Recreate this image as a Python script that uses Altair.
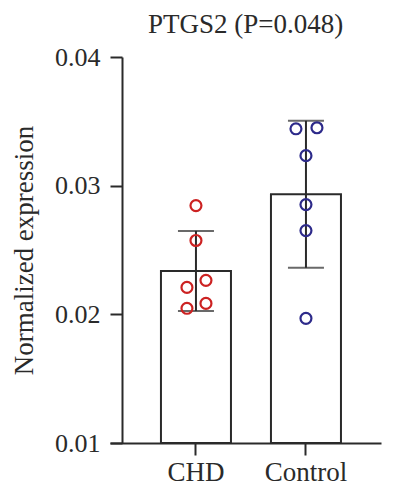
import altair as alt
import pandas as pd

groups = ["CHD", "Control"]
chd_values = [0.02845, 0.02574, 0.02264, 0.02209, 0.02085, 0.02047]
control_values = [0.03442, 0.03450, 0.03233, 0.02853, 0.02651, 0.01969]
chd_jitter = [0, 0, 10, -9, 10, -9]
control_jitter = [-10, 11, 0, 0, 0, 0]
colors = ["#cc2222", "#2d2a8a"]
y_ticks = [0.01, 0.02, 0.03, 0.04]

rows = []
for g, vals, jit in [("CHD", chd_values, chd_jitter), ("Control", control_values, control_jitter)]:
    for v, j in zip(vals, jit):
        rows.append({"group": g, "value": v, "jit": j})
df = pd.DataFrame(rows)

FONT = "Liberation Serif"
INK = "#2a2a2a"
HALF_BAND = 35  # half of the 70px band: points are offset from the band's centre

xscale = alt.Scale(paddingInner=0.3636, paddingOuter=0.4136, align=0.56)
xenc = alt.X(
    "group:N", sort=groups, scale=xscale,
    axis=alt.Axis(title=None, labelAngle=0, labelFontSize=27, labelPadding=4),
)
yscale = alt.Scale(domain=[0.01, 0.04], zero=False, nice=False)
yaxis = alt.Axis(
    title="Normalized expression", values=y_ticks, format=".2f", offset=-12,
    labelFontSize=26, labelPadding=10, titleFontSize=27, titleFontWeight="normal",
    titlePadding=16,
)

base = alt.Chart(df)
stats = base.transform_aggregate(
    mean="mean(value)", sd="stdev(value)", groupby=["group"]
).transform_calculate(lo="datum.mean - datum.sd", hi="datum.mean + datum.sd")

bars = stats.mark_bar(fill="white", stroke=INK, strokeWidth=2).encode(
    x=xenc, y=alt.Y("mean:Q", scale=yscale, axis=yaxis), y2=alt.datum(0.01)
)
rule = stats.mark_rule(color=INK, strokeWidth=2).encode(
    x=xenc, y=alt.Y("lo:Q", scale=yscale), y2="hi:Q"
)
cap_lo = stats.mark_tick(color=INK, thickness=2, size=36).encode(
    x=xenc, y=alt.Y("lo:Q", scale=yscale)
)
cap_hi = stats.mark_tick(color=INK, thickness=2, size=36).encode(
    x=xenc, y=alt.Y("hi:Q", scale=yscale)
)
points = base.transform_calculate(
    off=f"datum.jit + {HALF_BAND}"
).mark_point(shape="circle", filled=False, size=120, strokeWidth=2.2, opacity=1).encode(
    x=xenc,
    xOffset=alt.XOffset("off:Q", scale=None),
    y=alt.Y("value:Q", scale=yscale),
    color=alt.Color("group:N", scale=alt.Scale(domain=groups, range=colors), legend=None),
)

chart = alt.layer(bars, rule, cap_lo, cap_hi, points).properties(
    width=271, height=386,
    title=alt.TitleParams("PTGS2 (P=0.048)", fontSize=27, font=FONT, fontWeight="normal",
                          color=INK, frame="group", anchor="middle", baseline="bottom",
                          offset=8, dy=30),
    autosize=alt.AutoSizeParams(type="none"),
    padding={"left": 102, "top": 49, "right": 6, "bottom": 49},
).configure_view(stroke=None).configure_axis(
    labelFont=FONT, titleFont=FONT, labelColor=INK, titleColor=INK,
    domainColor=INK, domainWidth=2, tickColor=INK, tickWidth=2, tickSize=12, grid=False,
)

chart.save("out.html", embed_options={"renderer": "svg", "actions": False})
